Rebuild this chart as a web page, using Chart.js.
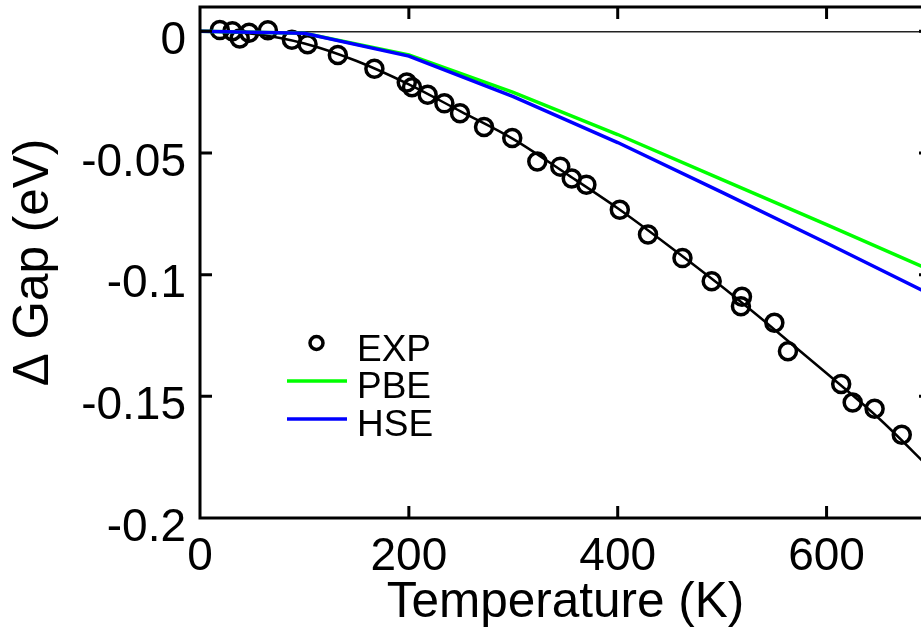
<!DOCTYPE html>
<html><head><meta charset="utf-8">
<script src="https://cdn.jsdelivr.net/npm/chart.js@4.4.1/dist/chart.umd.min.js"></script>
<style>html,body{margin:0;padding:0;overflow:hidden;background:#fff}#wrap{position:absolute;left:0;top:0;width:932px;height:635px}canvas{display:block}</style>
</head><body><div id="wrap"><canvas id="c" width="932" height="635"></canvas></div>
<script>
// ---- data ----
const EXP_T = [19, 31, 38, 47, 65, 88, 103, 132, 167, 198, 203, 218, 234, 249, 272, 299, 323, 345, 356, 370, 402, 429, 462, 490, 519, 518, 550, 563, 614, 625, 646, 672];
const EXP_G = [0.0005, 0.0000, -0.0029, -0.0006, 0.0004, -0.0035, -0.0053, -0.0097, -0.0154, -0.0210, -0.0230, -0.0261, -0.0296, -0.0337, -0.0393, -0.0438, -0.0535, -0.0556, -0.0605, -0.0630, -0.0733, -0.0835, -0.0932, -0.1027, -0.1091, -0.1130, -0.1198, -0.1315, -0.1449, -0.1525, -0.1551, -0.1658];

const FIT_T = [0, 50, 100, 150, 200, 250, 300, 350, 400, 450, 500, 550, 600, 650, 700];
const FIT_G = [0, -0.0010, -0.0050, -0.0122, -0.0218, -0.0330, -0.0443, -0.0583, -0.0727, -0.0885, -0.1050, -0.1225, -0.1405, -0.1590, -0.1800];

const CALC_T = [0, 100, 200, 300, 400, 500, 600, 700];
const PBE_G = [0, -0.0008, -0.0097, -0.0251, -0.0424, -0.0609, -0.0794, -0.0982];
const HSE_G = [0, -0.0008, -0.0102, -0.0268, -0.0457, -0.0662, -0.0870, -0.1082];

const X_TICKS = [0, 200, 400, 600];
const X_TICK_LABELS = ['0', '200', '400', '600'];
const Y_TICKS = [0, -0.05, -0.1, -0.15, -0.2];
const Y_TICK_LABELS = ['0', '-0.05', '-0.1', '-0.15', '-0.2'];

const LEGEND_ORDER = ['EXP', 'PBE', 'HSE'];
const X_TITLE = 'Temperature (K)';
const Y_TITLE = '\u0394 Gap (eV)';

// ---- styles ----
const FONT = "'Liberation Sans', Arial, Helvetica, sans-serif";
const TICK_LEN = 12;

const pts = (xs, ys) => xs.map((v, i) => ({x: v, y: ys[i]}));

const framePlugin = {
  id: 'frame',
  afterDatasetsDraw(chart) {
    const {ctx, chartArea: a, scales: {x, y}} = chart;
    ctx.save();
    ctx.strokeStyle = '#000';
    ctx.lineWidth = 3;
    ctx.beginPath();
    X_TICKS.forEach(v => {
      if (v <= x.min || v >= x.max) return;
      const p = x.getPixelForValue(v);
      ctx.moveTo(p, a.bottom); ctx.lineTo(p, a.bottom - TICK_LEN);
      ctx.moveTo(p, a.top); ctx.lineTo(p, a.top + TICK_LEN);
    });
    Y_TICKS.forEach(v => {
      if (v <= y.min || v >= y.max) return;
      const p = y.getPixelForValue(v);
      ctx.moveTo(a.left, p); ctx.lineTo(a.left + TICK_LEN, p);
      ctx.moveTo(a.right, p); ctx.lineTo(a.right - TICK_LEN, p);
    });
    ctx.stroke();
    ctx.strokeRect(a.left, a.top, a.right - a.left, a.bottom - a.top);

    // legend
    const ds = chart.data.datasets;
    const lx0 = 287, lx1 = 347, tx = 357;
    const rows = [346, 383, 421];
    ctx.font = '37px ' + FONT;
    ctx.textBaseline = 'middle';
    ctx.textAlign = 'left';
    ctx.fillStyle = '#000';
    LEGEND_ORDER.forEach((name, i) => {
      const d = ds.find(q => q.label === name);
      const yy = rows[i];
      if (d.showLine === false) {
        ctx.beginPath();
        ctx.lineWidth = 3.5;
        ctx.strokeStyle = d.pointBorderColor;
        ctx.arc((lx0 + lx1) / 2 - 0.5, yy - 3, 6.5, 0, Math.PI * 2);
        ctx.stroke();
      } else {
        ctx.beginPath();
        ctx.lineWidth = d.borderWidth;
        ctx.strokeStyle = d.borderColor;
        ctx.moveTo(lx0, yy - 2); ctx.lineTo(lx1, yy - 2);
        ctx.stroke();
      }
      ctx.fillText(d.label, tx, yy + 5);
    });
    ctx.restore();
  }
};

new Chart(document.getElementById('c'), {
  type: 'scatter',
  data: {
    datasets: [
      {label: 'HSE', data: pts(CALC_T, HSE_G), showLine: true, borderColor: '#0000ff', borderWidth: 3.5, pointRadius: 0, order: 0},
      {label: 'PBE', data: pts(CALC_T, PBE_G), showLine: true, borderColor: '#00ff00', borderWidth: 3.5, pointRadius: 0, order: 1},
      {label: 'EXP', data: pts(EXP_T, EXP_G), showLine: false, pointStyle: 'circle', pointRadius: 8.5, pointBorderWidth: 3.5, pointBorderColor: '#000', pointBackgroundColor: 'rgba(0,0,0,0)', order: 2},
      {label: 'fit', data: pts(FIT_T, FIT_G), showLine: true, borderColor: '#000', borderWidth: 2.5, pointRadius: 0, cubicInterpolationMode: 'monotone', order: 3}
    ]
  },
  options: {
    responsive: false,
    animation: false,
    layout: {autoPadding: false, padding: {top: 7, right: 1, left: 0, bottom: 0}},
    plugins: {legend: {display: false}, tooltip: {enabled: false}},
    scales: {
      x: {
        type: 'linear', min: 0, max: 700,
        afterBuildTicks: s => { s.ticks = X_TICKS.map(v => ({value: v})); },
        afterFit: s => { s.height = 117; s.paddingLeft = 0; s.paddingRight = 0; s.paddingTop = 0; s.paddingBottom = 0; },
        grid: {display: false, drawTicks: false, tickLength: 0},
        border: {display: false},
        ticks: {
          color: '#000', font: {family: FONT, size: 46}, padding: 12, maxRotation: 0, autoSkip: false,
          callback: (v, i) => X_TICK_LABELS[X_TICKS.indexOf(v)]
        },
        title: {display: true, text: X_TITLE, color: '#000', font: {family: FONT, size: 49.5}, padding: {top: 0, bottom: 2}}
      },
      y: {
        type: 'linear', min: -0.2, max: 0.01,
        afterBuildTicks: s => { s.ticks = Y_TICKS.map(v => ({value: v})); },
        afterFit: s => { s.width = 200; s.paddingTop = 0; s.paddingBottom = 0; s.paddingLeft = 0; s.paddingRight = 0; },
        grid: {
          drawTicks: false,
          color: c => (c.tick && c.tick.value === 0) ? '#222' : 'rgba(0,0,0,0)',
          lineWidth: 1.5
        },
        border: {display: false},
        ticks: {
          color: '#000', font: {family: FONT, size: 46}, padding: 14, labelOffset: 10, autoSkip: false,
          callback: (v) => Y_TICK_LABELS[Y_TICKS.findIndex(t => Math.abs(t - v) < 1e-9)]
        },
        title: {display: true, text: Y_TITLE, color: '#000', font: {family: FONT, size: 49.5}, padding: {top: 5, bottom: 0}}
      }
    }
  },
  plugins: [framePlugin]
});
</script>
</body></html>
